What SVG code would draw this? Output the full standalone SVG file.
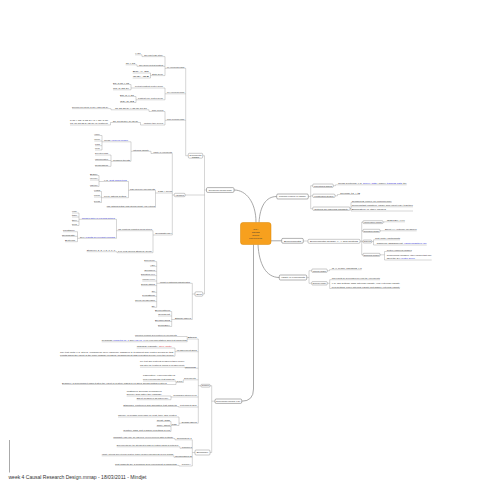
<svg xmlns="http://www.w3.org/2000/svg" width="495" height="495" viewBox="0 0 495 495">
<style>
text{font-family:"Liberation Sans",Arial,sans-serif;fill:#333}
.l{font-size:2.2px}
.bx{fill:#fff;stroke:#666;stroke-width:0.35}
.b1{fill:#fff;stroke:#555;stroke-width:0.45}
.bt{font-size:2.3px;text-anchor:middle}
.u{stroke:#777;stroke-width:0.3}
.c{fill:none;stroke:#888;stroke-width:0.35}
.m{fill:none;stroke:#8c8c8c;stroke-width:0.75}
.k{fill:#2b2bd6}
.r{fill:#d02020}
</style>
<rect width="495" height="495" fill="#fff"/>
<g id="frame"><line x1="9.5" y1="440" x2="9.5" y2="472.5" stroke="#555" stroke-width="0.5"/>
<text x="8.5" y="479" font-size="5.2" textLength="138" lengthAdjust="spacingAndGlyphs" fill="#444">week 4 Causal Research Design.mmap - 18/03/2011 - Mindjet</text></g>
<g id="connectors">
<path class="m" d="M256 222.5 C256 202 246 190 234 190 M259 222.5 C260 206 266 196.5 276.7 196.5 M271 240.8 H281.7 M258 244.5 C259 264 266 277.5 279.3 277.5 M253.5 244.5 V389 Q253.5 401.2 241.7 401.2"/>
<path class="c" d="M206.5 190 H204.5 M204.5 155.7 V294 M204.5 155.7 H202.7 M204.5 195 H185.1 M204.5 294 H202.8
M188.3 155.7 H185.7 M185.7 68.3 V155.7 M185.7 68.3 H184.3 M185.7 93.8 H184.3 M185.7 120.3 H184.3
M167 68.3 H165 M165 56.6 V75.6 M165 56.6 H163 M165 66.3 H163 M165 75.6 H163
M144 56.6 H142 V54.8 H140.5 M139 66.3 H137 V64.8 H135 M152 75.6 H150.5 M150.5 73 V78 M150.5 73 H149 M150.5 78 H149
M167 93.8 H165 M165 88 V99.8 M165 88 H163 M165 99.8 H163
M135 88 H131 M131 84.5 V89.8 M131 84.5 H129 M131 89.8 H129 M138 99.8 H136 M136 96.5 V102.5 M136 96.5 H134 M136 102.5 H134
M167 120.3 H165 M165 111.5 V125 M165 111.5 H163.3 M165 125 H163
M151.7 111.5 H149 V109.8 H146.7 M115 109.8 H111 V108.6 H108 M144 125 H140.5 V122.5 H138 M113 122.5 H110.5 V125 H108
M174.3 195 H172.3 M172.3 153.5 V235 M172.3 153.5 H172 M172.3 193 H172 M172.3 235 H172
M153 153.5 H151 V151.3 H149 M133 151.3 H131 M131 141.8 V161.3 M131 141.8 H128 M131 161.3 H130
M104 141.8 H102 M102 135.5 V150 M102 135.5 H100 M102 141 H100 M102 145.7 H100 M102 150 H100
M113 161.3 H111 M111 155 V166.3 M111 155 H108 M111 160.5 H108 M111 166.3 H108
M158 193 H155.5 M155.5 190.3 V207.3 M155.5 190.3 H155 M155.5 207.3 H155
M130 190.3 H128.5 M128.5 181.5 V197.7 M128.5 181.5 H126.7 M128.5 197.7 H126
M104 181.5 H99 M99 175.5 V186.5 M99 175.5 H97.7 M99 180 H97.7 M99 186.5 H97.7
M104 197.7 H101.5 M101.5 191.5 V202.5 M101.5 191.5 H100 M101.5 197 H100 M101.5 202.5 H100
M155 235 H153 M153 230.7 V252.7 M153 230.7 H152 M153 252.7 H152
M118 230.7 H116.5 M116.5 219.3 V238.3 M116.5 219.3 H115 M116.5 238.3 H115
M81.7 219.3 H79 M79 213 V225.5 M79 213 H77 M79 217 H77 M79 221.3 H77 M79 225.5 H77
M80 238.3 H77.5 M77.5 231.7 V241.7 M77.5 231.7 H75 M77.5 236.3 H75 M77.5 241.7 H75
M118 252.7 H117 V251.7 H115
M195 294 H192.3 M192.3 283.3 V319.5 M192.3 283.3 H190 M192.3 319.5 H191
M160 283.3 H156.7 M156.7 261.6 V307.3 M156.7 261.6 H155 M156.7 266.3 H155 M156.7 271.3 H155 M156.7 275.6 H155 M156.7 281 H155 M156.7 285.6 H155 M156.7 292.3 H155 M156.7 296.3 H155 M156.7 301.6 H155 M156.7 307.3 H155
M175 319.5 H171.7 M171.7 311.5 V326.5 M171.7 311.5 H170 M171.7 316 H170 M171.7 321.5 H170 M171.7 326.5 H170
M308.3 196.5 H310.7 M310.7 185.7 V208.7 M310.7 185.7 H312.7 M310.7 195.8 H312.7 M310.7 208.7 H312.7
M333.3 185.7 H335.5 V184.8 H338 M335 195.8 H337.5 V194.5 H340
M350 208.7 H351 M351 202.5 V211 M351 202.5 H351.7 M351 206.8 H351.7 M351 211 H351.7
M303.3 241 H308 M360 241.3 H361.7 M361.7 222.1 V254.8 M361.7 222.1 H363 M361.7 230.8 H363 M361.7 241.5 H363 M361.7 254.8 H363
M383 222.1 H384.5 V221.8 H386.7 M380 230.8 H385
M371.7 241.5 H373.5 M373.5 239.8 V245 M373.5 239.8 H375 M373.5 245 H376.7
M380 254.8 H384.5 M384.5 251.5 V260 M384.5 251.5 H386.7 M384.5 260 H386.7
M306.7 277.5 H309 M309 270.7 V283.3 M309 270.7 H311.7 M309 283.3 H311.7
M327.3 270.7 H329.5 V269.7 H331.7 M327.3 283.3 H329.7 M329.7 279.7 V288.5 M329.7 279.7 H331.7 M329.7 288.5 H331.7
M215 401.2 H211.7 M211.7 385.7 V452.5 M211.7 385.7 H210 M211.7 452.5 H210
M201 385.7 H198.3 M198.3 339 V423.2 M198.3 339 H196.7 M198.3 351.7 H196.7 M198.3 368.2 H196.7 M198.3 379.8 H196.7 M198.3 397 H196.7 M198.3 407 H196.7 M198.3 423.2 H196.7
M187.7 339 H187.2 M187.2 336.5 V341.8 M187.2 336.5 H176.7 M187.2 341.8 H186.7
M176.7 351.7 H175 M175 348 V356.2 M175 348 H171.7 M175 356.2 H173.3
M185 368.2 V367.2 H184.5
M184.3 379.8 H183.3 V382.5 H182.3 M176.7 382.5 H176 M176 381 V384.5 M176 381 H175 M176 384.5 H166.7
M173.3 397 H171 M171 396 V399.7 M171 396 H161.7 M171 399.7 H168.3
M180 407 H178.5 V406.5 H176.7
M181.7 423.2 H179 M179 417 V425.5 M179 417 H176.7 M179 425.5 H176.7
M171.7 425.5 H171 M171 421.5 V431.5 M171 421.5 H170 M171 426.5 H170 M171 431.5 H170
M195 452.5 H192.3 M192.3 439.8 V466 M192.3 439.8 H191.7 M192.3 448.3 H191.7 M192.3 457.3 H191.7 M192.3 466 H190.7
M176.7 439.8 H175 V438.5 H173.3 M181.7 448.3 H180 V446.8 H178.3 M175 457.3 H174 V455.8 H173.3 M181.7 466 H179 V465.3 H176.7"/>
</g>
<g id="central"><rect x="240.5" y="222.5" width="30.5" height="22" rx="2.5" fill="#F7A01E" stroke="#D88400" stroke-width="0.5"/>
<text x="255.7" y="229.8" font-size="2.4" text-anchor="middle" textLength="5" lengthAdjust="spacingAndGlyphs">Week 4</text>
<text x="255.7" y="232.8" font-size="2.4" text-anchor="middle" textLength="8" lengthAdjust="spacingAndGlyphs">Causal</text>
<text x="255.7" y="235.8" font-size="2.4" text-anchor="middle" textLength="7" lengthAdjust="spacingAndGlyphs">Research</text>
<text x="255.7" y="238.8" font-size="2.4" text-anchor="middle" textLength="13" lengthAdjust="spacingAndGlyphs">Design (Experiments)</text></g>
<g id="m1"><rect class="b1" x="206.5" y="187.6" width="27.5" height="4.8" rx="1.2"/><text class="bt" x="220.2" y="190.8" textLength="23" lengthAdjust="spacingAndGlyphs">Experimental research design</text></g>
<g id="nA"><rect class="bx" x="188.3" y="153.3" width="14.4" height="4.8" rx="1"/><text class="bt" x="195.5" y="155.5" font-size="1.9" textLength="12" lengthAdjust="spacingAndGlyphs">Experimental</text><text class="bt" x="195.5" y="157.6" font-size="1.9" textLength="7" lengthAdjust="spacingAndGlyphs">designs</text></g>
<g id="nB"><rect class="bx" x="174.3" y="193.3" width="10.8" height="3.4" rx="1"/><text class="bt" x="179.7" y="195.8" textLength="8.5" lengthAdjust="spacingAndGlyphs">Variables</text></g>
<g id="nC"><rect class="bx" x="195" y="291.8" width="7.8" height="4.4" rx="1"/><text class="bt" x="198.9" y="294.8" textLength="5.5" lengthAdjust="spacingAndGlyphs">Issues</text></g>
<g id="leaves-left" class="l">
<g id="a1"><text x="167" y="67.6" textLength="17.3" lengthAdjust="spacingAndGlyphs">Pre-experimental designs</text><line class="u" x1="167" y1="68.3" x2="184.3" y2="68.3"/></g>
<g id="a2"><text x="167" y="93.1" textLength="17.3" lengthAdjust="spacingAndGlyphs">True experimental designs</text><line class="u" x1="167" y1="93.8" x2="184.3" y2="93.8"/></g>
<g id="a3"><text x="167" y="119.6" textLength="17.3" lengthAdjust="spacingAndGlyphs">Quasi-experimental designs</text><line class="u" x1="167" y1="120.3" x2="184.3" y2="120.3"/></g>
<g id="a1a"><text x="144" y="55.9" textLength="19" lengthAdjust="spacingAndGlyphs">One-shot case study</text><line class="u" x1="144" y1="56.6" x2="163" y2="56.6"/></g>
<g id="a1a1"><text x="135" y="54.1" textLength="5.5" lengthAdjust="spacingAndGlyphs">X O1</text><line class="u" x1="135" y1="54.8" x2="140.5" y2="54.8"/></g>
<g id="a1b"><text x="139" y="65.6" textLength="24" lengthAdjust="spacingAndGlyphs">One-group pretest-posttest</text><line class="u" x1="139" y1="66.3" x2="163" y2="66.3"/></g>
<g id="a1b1"><text x="125.7" y="64.1" textLength="9.3" lengthAdjust="spacingAndGlyphs">O1 X O2</text><line class="u" x1="125.7" y1="64.8" x2="135" y2="64.8"/></g>
<g id="a1c"><text x="152" y="74.9" textLength="11" lengthAdjust="spacingAndGlyphs">Static group</text><line class="u" x1="152" y1="75.6" x2="163" y2="75.6"/></g>
<g id="a1c1"><text x="132.7" y="72.3" textLength="16.3" lengthAdjust="spacingAndGlyphs">EG: X O1</text><line class="u" x1="132.7" y1="73" x2="149" y2="73"/></g>
<g id="a1c2"><text x="132.7" y="77.3" textLength="16.3" lengthAdjust="spacingAndGlyphs">CG: O2</text><line class="u" x1="132.7" y1="78" x2="149" y2="78"/></g>
<g id="a2a"><text x="135" y="87.3" textLength="28" lengthAdjust="spacingAndGlyphs">Pretest-posttest control group</text><line class="u" x1="135" y1="88" x2="163" y2="88"/></g>
<g id="a2a1"><text x="113" y="83.8" textLength="16" lengthAdjust="spacingAndGlyphs">EG: R O1 X O2</text><line class="u" x1="113" y1="84.5" x2="129" y2="84.5"/></g>
<g id="a2a2"><text x="113" y="89.1" textLength="16" lengthAdjust="spacingAndGlyphs">CG: R O3 O4</text><line class="u" x1="113" y1="89.8" x2="129" y2="89.8"/></g>
<g id="a2b"><text x="138" y="99.1" textLength="25" lengthAdjust="spacingAndGlyphs">Posttest-only control group</text><line class="u" x1="138" y1="99.8" x2="163" y2="99.8"/></g>
<g id="a2b1"><text x="120" y="95.8" textLength="14" lengthAdjust="spacingAndGlyphs">EG: R X O1</text><line class="u" x1="120" y1="96.5" x2="134" y2="96.5"/></g>
<g id="a2b2"><text x="120" y="101.8" textLength="14" lengthAdjust="spacingAndGlyphs">CG: R O2</text><line class="u" x1="120" y1="102.5" x2="134" y2="102.5"/></g>
<g id="a3a"><text x="151.7" y="110.8" textLength="11.6" lengthAdjust="spacingAndGlyphs">Time series</text><line class="u" x1="151.7" y1="111.5" x2="163.3" y2="111.5"/></g>
<g id="a3a1"><text x="115" y="109.1" textLength="31.7" lengthAdjust="spacingAndGlyphs">O1 O2 O3 O4 X O5 O6 O7 O8</text><line class="u" x1="115" y1="109.8" x2="146.7" y2="109.8"/></g>
<g id="a3a2"><text x="72" y="107.9" textLength="36" lengthAdjust="spacingAndGlyphs">Solomon four-group: R O1 X O2 R O3 O4</text><line class="u" x1="72" y1="108.6" x2="108" y2="108.6"/></g>
<g id="a3b"><text x="144" y="124.3" textLength="19" lengthAdjust="spacingAndGlyphs">Multiple time series</text><line class="u" x1="144" y1="125" x2="163" y2="125"/></g>
<g id="a3b1"><text x="113" y="121.8" textLength="25" lengthAdjust="spacingAndGlyphs">EG: O1 O2 O3 X O4 O5 O6</text><line class="u" x1="113" y1="122.5" x2="138" y2="122.5"/></g>
<g id="a3b2"><text x="70" y="121" textLength="38" lengthAdjust="spacingAndGlyphs">R O1 X O2 / R O3 O4 / R X O5 / R O6</text><text x="70" y="124.2" textLength="38" lengthAdjust="spacingAndGlyphs">CG: O1 O2 O3 O4 O5 O6 (no treatment)</text><line class="u" x1="70" y1="125" x2="108" y2="125"/></g>
<g id="b1"><text x="153" y="152.8" textLength="19" lengthAdjust="spacingAndGlyphs">Validity of experiments</text><line class="u" x1="153" y1="153.5" x2="172" y2="153.5"/></g>
<g id="b1a"><text x="133" y="150.6" textLength="16" lengthAdjust="spacingAndGlyphs">Internal validity</text><line class="u" x1="133" y1="151.3" x2="149" y2="151.3"/></g>
<g id="b1a1"><text x="104" y="141.1" textLength="24" lengthAdjust="spacingAndGlyphs">Threats: <tspan class="k">extraneous variables</tspan></text><line class="u" x1="104" y1="141.8" x2="128" y2="141.8"/></g>
<g id="b1a1a"><text x="94.3" y="134.8" textLength="5.7" lengthAdjust="spacingAndGlyphs">History</text><line class="u" x1="94.3" y1="135.5" x2="100" y2="135.5"/></g>
<g id="b1a1b"><text x="94.3" y="140.3" textLength="5.7" lengthAdjust="spacingAndGlyphs">Maturation</text><line class="u" x1="94.3" y1="141" x2="100" y2="141"/></g>
<g id="b1a1c"><text x="95" y="145" textLength="5" lengthAdjust="spacingAndGlyphs">Testing</text><line class="u" x1="95" y1="145.7" x2="100" y2="145.7"/></g>
<g id="b1a1d"><text x="95" y="149.3" textLength="5" lengthAdjust="spacingAndGlyphs">Mortality</text><line class="u" x1="95" y1="150" x2="100" y2="150"/></g>
<g id="b1a2"><text x="113" y="160.6" textLength="17" lengthAdjust="spacingAndGlyphs">Common threats</text><line class="u" x1="113" y1="161.3" x2="130" y2="161.3"/></g>
<g id="b1a2a"><text x="95" y="154.3" textLength="13" lengthAdjust="spacingAndGlyphs">Selection bias</text><line class="u" x1="95" y1="155" x2="108" y2="155"/></g>
<g id="b1a2b"><text x="95" y="159.8" textLength="13" lengthAdjust="spacingAndGlyphs">Instrumentation</text><line class="u" x1="95" y1="160.5" x2="108" y2="160.5"/></g>
<g id="b1a2c"><text x="95" y="165.6" textLength="13" lengthAdjust="spacingAndGlyphs">Regression</text><line class="u" x1="95" y1="166.3" x2="108" y2="166.3"/></g>
<g id="b2"><text x="158" y="192.3" textLength="14" lengthAdjust="spacingAndGlyphs">Lab / field</text><line class="u" x1="158" y1="193" x2="172" y2="193"/></g>
<g id="b2a"><text x="130" y="189.6" textLength="25" lengthAdjust="spacingAndGlyphs">Lab vs field experiments</text><line class="u" x1="130" y1="190.3" x2="155" y2="190.3"/></g>
<g id="b2a1"><text x="104" y="180.8" textLength="22.7" lengthAdjust="spacingAndGlyphs">e.g. <tspan class="k">Test marketing</tspan></text><line class="u" x1="104" y1="181.5" x2="126.7" y2="181.5"/></g>
<g id="b2a1a"><text x="90" y="174.8" textLength="7.7" lengthAdjust="spacingAndGlyphs">Daily</text><line class="u" x1="90" y1="175.5" x2="97.7" y2="175.5"/></g>
<g id="b2a1b"><text x="90" y="179.3" textLength="7.7" lengthAdjust="spacingAndGlyphs">Weekly</text><line class="u" x1="90" y1="180" x2="97.7" y2="180"/></g>
<g id="b2a1c"><text x="90" y="185.8" textLength="7.7" lengthAdjust="spacingAndGlyphs">Last time</text><line class="u" x1="90" y1="186.5" x2="97.7" y2="186.5"/></g>
<g id="b2a2"><text x="104" y="197" textLength="22" lengthAdjust="spacingAndGlyphs">Field: natural setting</text><line class="u" x1="104" y1="197.7" x2="126" y2="197.7"/></g>
<g id="b2a2a"><text x="94" y="190.8" textLength="6" lengthAdjust="spacingAndGlyphs">High</text><line class="u" x1="94" y1="191.5" x2="100" y2="191.5"/></g>
<g id="b2a2b"><text x="94" y="196.3" textLength="6" lengthAdjust="spacingAndGlyphs">Medium</text><line class="u" x1="94" y1="197" x2="100" y2="197"/></g>
<g id="b2a2c"><text x="94" y="201.8" textLength="6" lengthAdjust="spacingAndGlyphs">Low</text><line class="u" x1="94" y1="202.5" x2="100" y2="202.5"/></g>
<g id="b2b"><text x="106.7" y="206.6" textLength="48.3" lengthAdjust="spacingAndGlyphs">Lab: artificial setting, high internal validity, low external</text><line class="u" x1="106.7" y1="207.3" x2="155" y2="207.3"/></g>
<g id="b3"><text x="155" y="234.3" textLength="17" lengthAdjust="spacingAndGlyphs">Consistency</text><line class="u" x1="155" y1="235" x2="172" y2="235"/></g>
<g id="b3a"><text x="118" y="230" textLength="34" lengthAdjust="spacingAndGlyphs">Lab conditions consistent across studies</text><line class="u" x1="118" y1="230.7" x2="152" y2="230.7"/></g>
<g id="b3a1"><text x="81.7" y="218.6" textLength="33.3" lengthAdjust="spacingAndGlyphs" class="k">Impact Factor of research articles</text><line class="u" x1="81.7" y1="219.3" x2="115" y2="219.3"/></g>
<g id="b3a1a"><text x="72" y="212.3" textLength="5" lengthAdjust="spacingAndGlyphs">one</text><line class="u" x1="72" y1="213" x2="77" y2="213"/></g>
<g id="b3a1b"><text x="72" y="216.3" textLength="5" lengthAdjust="spacingAndGlyphs">two</text><line class="u" x1="72" y1="217" x2="77" y2="217"/></g>
<g id="b3a1c"><text x="72" y="220.6" textLength="5" lengthAdjust="spacingAndGlyphs">three</text><line class="u" x1="72" y1="221.3" x2="77" y2="221.3"/></g>
<g id="b3a1d"><text x="72" y="224.8" textLength="5" lengthAdjust="spacingAndGlyphs">four</text><line class="u" x1="72" y1="225.5" x2="77" y2="225.5"/></g>
<g id="b3a2"><text x="80" y="237.6" textLength="35" lengthAdjust="spacingAndGlyphs">see: <tspan class="k">results in relevant journals</tspan></text><line class="u" x1="80" y1="238.3" x2="115" y2="238.3"/></g>
<g id="b3a2a"><text x="63" y="231" textLength="12" lengthAdjust="spacingAndGlyphs">Multiple</text><line class="u" x1="63" y1="231.7" x2="75" y2="231.7"/></g>
<g id="b3a2b"><text x="62" y="235.6" textLength="13" lengthAdjust="spacingAndGlyphs">Replicate</text><line class="u" x1="62" y1="236.3" x2="75" y2="236.3"/></g>
<g id="b3a2c"><text x="65" y="241" textLength="10" lengthAdjust="spacingAndGlyphs">Extend</text><line class="u" x1="65" y1="241.7" x2="75" y2="241.7"/></g>
<g id="b3b"><text x="118" y="252" textLength="34" lengthAdjust="spacingAndGlyphs">For real-world studies (field)</text><line class="u" x1="118" y1="252.7" x2="152" y2="252.7"/></g>
<g id="b3b1"><text x="86.7" y="251" textLength="28.3" lengthAdjust="spacingAndGlyphs">Studies 1, 2, 3, 4, 5, 6, 7, 8</text><line class="u" x1="86.7" y1="251.7" x2="115" y2="251.7"/></g>
<g id="c1"><text x="160" y="282.6" textLength="30" lengthAdjust="spacingAndGlyphs">Impact of participant characteristics</text><line class="u" x1="160" y1="283.3" x2="190" y2="283.3"/></g>
<g id="c1a"><text x="144.3" y="260.9" textLength="10.7" lengthAdjust="spacingAndGlyphs">Experience</text><line class="u" x1="144.3" y1="261.6" x2="155" y2="261.6"/></g>
<g id="c1b"><text x="150" y="265.6" textLength="5" lengthAdjust="spacingAndGlyphs">Age</text><line class="u" x1="150" y1="266.3" x2="155" y2="266.3"/></g>
<g id="c1c"><text x="144.3" y="270.6" textLength="10.7" lengthAdjust="spacingAndGlyphs">Gender</text><line class="u" x1="144.3" y1="271.3" x2="155" y2="271.3"/></g>
<g id="c1d"><text x="141" y="274.9" textLength="14" lengthAdjust="spacingAndGlyphs">Education level</text><line class="u" x1="141" y1="275.6" x2="155" y2="275.6"/></g>
<g id="c1e"><text x="142.3" y="280.3" textLength="12.7" lengthAdjust="spacingAndGlyphs">Income level</text><line class="u" x1="142.3" y1="281" x2="155" y2="281"/></g>
<g id="c1f"><text x="141" y="284.9" textLength="14" lengthAdjust="spacingAndGlyphs">Social status</text><line class="u" x1="141" y1="285.6" x2="155" y2="285.6"/></g>
<g id="c1g"><text x="151.7" y="291.6" textLength="3.3" lengthAdjust="spacingAndGlyphs">Size</text><line class="u" x1="151.7" y1="292.3" x2="155" y2="292.3"/></g>
<g id="c1h"><text x="142.3" y="295.6" textLength="12.7" lengthAdjust="spacingAndGlyphs">Location</text><line class="u" x1="142.3" y1="296.3" x2="155" y2="296.3"/></g>
<g id="c1i"><text x="135" y="300.9" textLength="20" lengthAdjust="spacingAndGlyphs">Group membership</text><line class="u" x1="135" y1="301.6" x2="155" y2="301.6"/></g>
<g id="c1j"><text x="151.7" y="306.6" textLength="3.3" lengthAdjust="spacingAndGlyphs">Etc.</text><line class="u" x1="151.7" y1="307.3" x2="155" y2="307.3"/></g>
<g id="c2"><text x="175" y="318.8" textLength="16" lengthAdjust="spacingAndGlyphs">Ethical issues</text><line class="u" x1="175" y1="319.5" x2="191" y2="319.5"/></g>
<g id="c2a"><text x="155" y="310.8" textLength="15" lengthAdjust="spacingAndGlyphs">Deception</text><line class="u" x1="155" y1="311.5" x2="170" y2="311.5"/></g>
<g id="c2b"><text x="158" y="315.3" textLength="12" lengthAdjust="spacingAndGlyphs">Consent</text><line class="u" x1="158" y1="316" x2="170" y2="316"/></g>
<g id="c2c"><text x="155" y="320.8" textLength="15" lengthAdjust="spacingAndGlyphs">Debriefing</text><line class="u" x1="155" y1="321.5" x2="170" y2="321.5"/></g>
<g id="c2d"><text x="158" y="325.8" textLength="12" lengthAdjust="spacingAndGlyphs">Privacy</text><line class="u" x1="158" y1="326.5" x2="170" y2="326.5"/></g>
</g>
<g id="r1"><rect class="b1" x="276.7" y="194" width="31.6" height="5" rx="1.2"/><text class="bt" x="292.5" y="197.3" textLength="27" lengthAdjust="spacingAndGlyphs">Research evidence of causality</text></g>
<g id="r1a"><rect class="bx" x="312.7" y="184" width="20.6" height="3.4" rx="1"/><text class="bt" x="323" y="186.5" textLength="18" lengthAdjust="spacingAndGlyphs">Correlational studies</text></g>
<g id="r1b"><rect class="bx" x="312.7" y="194.1" width="22.3" height="3.4" rx="1"/><text class="bt" x="323.85" y="196.6" textLength="19" lengthAdjust="spacingAndGlyphs">Longitudinal studies</text></g>
<g id="r1c"><rect class="bx" x="312.7" y="207" width="37.3" height="3.4" rx="1"/><text class="bt" x="331.35" y="209.5" textLength="34" lengthAdjust="spacingAndGlyphs">Criteria for inferring causality</text></g>
<g id="r2"><rect class="b1" x="281.7" y="238.4" width="21.6" height="4.8" rx="1.2"/><text class="bt" x="292.5" y="241.6" textLength="17" lengthAdjust="spacingAndGlyphs">Experiments</text></g>
<g id="r2a"><rect class="bx" x="308" y="239.3" width="52" height="4" rx="1"/><text class="bt" x="334" y="242.1" textLength="48" lengthAdjust="spacingAndGlyphs">Experimental design: X, Y and controls</text></g>
<g id="r2a1"><rect class="bx" x="363" y="220.7" width="20" height="2.9" rx="0.8"/><text class="bt" x="373" y="222.9" font-size="2" textLength="18" lengthAdjust="spacingAndGlyphs">Independent variable</text></g>
<g id="r2a2"><rect class="bx" x="363" y="229.3" width="17" height="3" rx="0.8"/><text class="bt" x="371.5" y="231.6" font-size="2" textLength="15" lengthAdjust="spacingAndGlyphs">Dependent variable</text></g>
<g id="r2a3"><rect class="bx" x="363" y="240" width="8.7" height="3" rx="0.8"/><text class="bt" x="367.35" y="242.3" font-size="2" textLength="7" lengthAdjust="spacingAndGlyphs">Subjects</text></g>
<g id="r2a4"><rect class="bx" x="363" y="253.3" width="17" height="3" rx="0.8"/><text class="bt" x="371.5" y="255.6" font-size="2" textLength="15" lengthAdjust="spacingAndGlyphs">Extraneous variables</text></g>
<g id="r3"><rect class="b1" x="279.3" y="275" width="27.4" height="5" rx="1.2"/><text class="bt" x="293" y="278.3" textLength="24" lengthAdjust="spacingAndGlyphs">Validity in experiments</text></g>
<g id="r3a"><rect class="bx" x="311.7" y="269" width="15.6" height="3.4" rx="1"/><text class="bt" x="319.5" y="271.5" textLength="13.5" lengthAdjust="spacingAndGlyphs">Internal validity</text></g>
<g id="r3b"><rect class="bx" x="311.7" y="281.6" width="15.6" height="3.4" rx="1"/><text class="bt" x="319.5" y="284.1" textLength="13.5" lengthAdjust="spacingAndGlyphs">External validity</text></g>
<g id="leaves-right" class="l">
<g id="r1a1"><text x="338" y="184.1" textLength="68.7" lengthAdjust="spacingAndGlyphs">Cross-sectional: e.g. <tspan class="k">survey data</tspan> / panel: <tspan class="k">tracking data</tspan> (t1)</text><line class="u" x1="338" y1="184.8" x2="406.7" y2="184.8"/></g>
<g id="r1b1"><text x="340" y="193.8" textLength="20" lengthAdjust="spacingAndGlyphs">Trends: t1 &gt; t2</text><line class="u" x1="340" y1="194.5" x2="360" y2="194.5"/></g>
<g id="r1c1"><text x="351.7" y="201.8" textLength="40" lengthAdjust="spacingAndGlyphs">Temporal order of occurrence</text><line class="u" x1="351.7" y1="202.5" x2="391.7" y2="202.5"/></g>
<g id="r1c2"><text x="351.7" y="206.1" textLength="61.3" lengthAdjust="spacingAndGlyphs">Concomitant variation: cause and effect vary together</text><line class="u" x1="351.7" y1="206.8" x2="413" y2="206.8"/></g>
<g id="r1c3"><text x="351.7" y="210.3" textLength="34.3" lengthAdjust="spacingAndGlyphs">Elimination of other causes</text><line class="u" x1="351.7" y1="211" x2="413" y2="211"/></g>
<g id="r2a1c"><text x="386.7" y="221.1" textLength="18.3" lengthAdjust="spacingAndGlyphs">Cause (X)</text><line class="u" x1="386.7" y1="221.8" x2="405" y2="221.8"/></g>
<g id="r2a2c"><text x="385" y="230.1" textLength="31.7" lengthAdjust="spacingAndGlyphs">Effect (Y): outcome measured</text><line class="u" x1="385" y1="230.8" x2="416.7" y2="230.8"/></g>
<g id="r2a3c1"><text x="375" y="239.1" textLength="25" lengthAdjust="spacingAndGlyphs">Test units / participants</text><line class="u" x1="375" y1="239.8" x2="400" y2="239.8"/></g>
<g id="r2a3c2"><text x="376.7" y="244.3" textLength="50" lengthAdjust="spacingAndGlyphs">Random assignment: <tspan class="k">randomisation (R)</tspan></text><line class="u" x1="376.7" y1="245" x2="426.7" y2="245"/></g>
<g id="r2a4c1"><text x="386.7" y="250.8" textLength="25" lengthAdjust="spacingAndGlyphs">Control extraneous variables</text><line class="u" x1="386.7" y1="251.5" x2="411.7" y2="251.5"/></g>
<g id="r2a4c2"><text x="386.7" y="255.8" textLength="45" lengthAdjust="spacingAndGlyphs">Confounding variables: other causes that may</text><text x="386.7" y="259.2" textLength="28" lengthAdjust="spacingAndGlyphs">affect the DV: <tspan class="k">control group</tspan></text><line class="u" x1="386.7" y1="260" x2="431.7" y2="260"/></g>
<g id="r3a1"><text x="331.7" y="269" textLength="30" lengthAdjust="spacingAndGlyphs">Is X really causing Y?</text><line class="u" x1="331.7" y1="269.7" x2="361.7" y2="269.7"/></g>
<g id="r3b1"><text x="331.7" y="279" textLength="48.3" lengthAdjust="spacingAndGlyphs">Can results be generalised beyond the experiment?</text><line class="u" x1="331.7" y1="279.7" x2="380" y2="279.7"/></g>
<g id="r3b2"><text x="331.7" y="284.2" textLength="68.3" lengthAdjust="spacingAndGlyphs">e.g. lab setting: high internal validity, low external validity</text><text x="331.7" y="287.7" textLength="68.3" lengthAdjust="spacingAndGlyphs">field setting: lower internal validity but higher external validity</text><line class="u" x1="331.7" y1="288.5" x2="400" y2="288.5"/></g>
</g>
<g id="nL"><rect class="b1" x="215" y="399" width="26.7" height="4.4" rx="1.2"/><text class="bt" x="228.35" y="402" textLength="24" lengthAdjust="spacingAndGlyphs">Experimental research (Hair)</text></g>
<g id="nL1"><rect class="bx" x="201" y="384.3" width="9" height="2.8" rx="0.8"/><text class="bt" x="205.5" y="386.4" font-size="2" textLength="7" lengthAdjust="spacingAndGlyphs">Examples</text></g>
<g id="nL2"><rect class="bx" x="195" y="450" width="15" height="5" rx="1"/><text class="bt" x="202.5" y="453.3" textLength="12" lengthAdjust="spacingAndGlyphs">Summary</text></g>
<g id="leaves-bottom" class="l">
<g id="l1a"><text x="187.7" y="338.3" textLength="9" lengthAdjust="spacingAndGlyphs">Ethics</text><line class="u" x1="187.7" y1="339" x2="196.7" y2="339"/></g>
<g id="l1a1"><text x="135" y="335.8" textLength="41.7" lengthAdjust="spacingAndGlyphs">Informed consent &amp; deception in experiments</text><line class="u" x1="135" y1="336.5" x2="176.7" y2="336.5"/></g>
<g id="l1a2"><text x="101.7" y="341.1" textLength="85" lengthAdjust="spacingAndGlyphs">Readings: <tspan class="k">Malhotra ch. 7</tspan> and <tspan class="k">Hair ch. 8</tspan> on experimentation and test marketing</text><line class="u" x1="101.7" y1="341.8" x2="186.7" y2="341.8"/></g>
<g id="l1b"><text x="176.7" y="351" textLength="20" lengthAdjust="spacingAndGlyphs">Measurement 2005</text><line class="u" x1="176.7" y1="351.7" x2="196.7" y2="351.7"/></g>
<g id="l1b1"><text x="136.7" y="347.3" textLength="35" lengthAdjust="spacingAndGlyphs">Causal validity: <tspan class="r">see note</tspan></text><line class="u" x1="136.7" y1="348" x2="171.7" y2="348"/></g>
<g id="l1b2"><text x="60" y="352.6" textLength="113.3" lengthAdjust="spacingAndGlyphs">The test units (e.g. stores, consumers) were randomly assigned to treatment and control groups so that</text><text x="60" y="355.5" textLength="113.3" lengthAdjust="spacingAndGlyphs">results show the effect of the price change on sales; measurement was repeated weekly over the period</text><line class="u" x1="60" y1="356.2" x2="173.3" y2="356.2"/></g>
<g id="l1c"><text x="185" y="367.5" textLength="10.7" lengthAdjust="spacingAndGlyphs">Timing</text><line class="u" x1="185" y1="368.2" x2="196.7" y2="368.2"/></g>
<g id="l1c1"><text x="140" y="362.3" textLength="44.5" lengthAdjust="spacingAndGlyphs">Pre-test and post-test measures taken before</text><text x="140" y="365.9" textLength="44.5" lengthAdjust="spacingAndGlyphs">and after the treatment (timing of measurement)</text><line class="u" x1="140" y1="367.2" x2="184.5" y2="367.2"/></g>
<g id="l1d"><text x="184.3" y="379.1" textLength="11.4" lengthAdjust="spacingAndGlyphs">Experiments</text><line class="u" x1="184.3" y1="379.8" x2="196.7" y2="379.8"/></g>
<g id="l1d0"><text x="176.7" y="381.8" textLength="5.6" lengthAdjust="spacingAndGlyphs">Types</text><line class="u" x1="176.7" y1="382.5" x2="182.3" y2="382.5"/></g>
<g id="l1d1"><text x="143" y="376.4" textLength="32" lengthAdjust="spacingAndGlyphs">Laboratory experiments vs</text><text x="143" y="380.1" textLength="32" lengthAdjust="spacingAndGlyphs">field experiments (test markets)</text><line class="u" x1="143" y1="381" x2="175" y2="381"/></g>
<g id="l1d2"><text x="62" y="383.8" textLength="104.7" lengthAdjust="spacingAndGlyphs">Example: a supermarket chain tested the effect of in-store displays on sales across matched stores</text><line class="u" x1="62" y1="384.5" x2="166.7" y2="384.5"/></g>
<g id="l1e"><text x="173.3" y="396.3" textLength="23.4" lengthAdjust="spacingAndGlyphs">Comparison studies 1998</text><line class="u" x1="173.3" y1="397" x2="196.7" y2="397"/></g>
<g id="l1e1"><text x="126.7" y="392.3" textLength="35" lengthAdjust="spacingAndGlyphs">Matched groups compared</text><text x="126.7" y="395.3" textLength="35" lengthAdjust="spacingAndGlyphs">before and after the change</text><line class="u" x1="126.7" y1="396" x2="161.7" y2="396"/></g>
<g id="l1e2"><text x="136.7" y="399" textLength="31.6" lengthAdjust="spacingAndGlyphs">Effect measured as difference</text><line class="u" x1="136.7" y1="399.7" x2="168.3" y2="399.7"/></g>
<g id="l1f"><text x="180" y="406.3" textLength="16.7" lengthAdjust="spacingAndGlyphs">Test markets 2001</text><line class="u" x1="180" y1="407" x2="196.7" y2="407"/></g>
<g id="l1f1"><text x="123.3" y="405.8" textLength="53.4" lengthAdjust="spacingAndGlyphs">Standard, controlled and simulated test markets</text><line class="u" x1="123.3" y1="406.5" x2="176.7" y2="406.5"/></g>
<g id="l1g"><text x="181.7" y="422.5" textLength="15" lengthAdjust="spacingAndGlyphs">Design issues</text><line class="u" x1="181.7" y1="423.2" x2="196.7" y2="423.2"/></g>
<g id="l1g1"><text x="118" y="416.3" textLength="58.7" lengthAdjust="spacingAndGlyphs">Choice of design depends on cost, time and control</text><line class="u" x1="118" y1="417" x2="176.7" y2="417"/></g>
<g id="l1g0"><text x="171.7" y="424.8" textLength="5" lengthAdjust="spacingAndGlyphs">Lab</text><line class="u" x1="171.7" y1="425.5" x2="176.7" y2="425.5"/></g>
<g id="l1g01"><text x="156.7" y="420.8" textLength="13.3" lengthAdjust="spacingAndGlyphs">Cost: high</text><line class="u" x1="156.7" y1="421.5" x2="170" y2="421.5"/></g>
<g id="l1g02"><text x="156.7" y="425.8" textLength="13.3" lengthAdjust="spacingAndGlyphs">Time: short</text><line class="u" x1="156.7" y1="426.5" x2="170" y2="426.5"/></g>
<g id="l1g03"><text x="123.3" y="430.8" textLength="46.7" lengthAdjust="spacingAndGlyphs">Control: high, but realism of setting is low</text><line class="u" x1="123.3" y1="431.5" x2="170" y2="431.5"/></g>
<g id="l2a"><text x="176.7" y="439.1" textLength="15" lengthAdjust="spacingAndGlyphs">Conclusion 1</text><line class="u" x1="176.7" y1="439.8" x2="191.7" y2="439.8"/></g>
<g id="l2a1"><text x="113.3" y="437.8" textLength="60" lengthAdjust="spacingAndGlyphs">Causality can only be inferred, never proven with certainty</text><line class="u" x1="113.3" y1="438.5" x2="173.3" y2="438.5"/></g>
<g id="l2b"><text x="181.7" y="447.6" textLength="10" lengthAdjust="spacingAndGlyphs">Conclusion 2</text><line class="u" x1="181.7" y1="448.3" x2="191.7" y2="448.3"/></g>
<g id="l2b1"><text x="116.7" y="446.1" textLength="61.6" lengthAdjust="spacingAndGlyphs">Experiments are the strongest design for testing causal hypotheses</text><line class="u" x1="116.7" y1="446.8" x2="178.3" y2="446.8"/></g>
<g id="l2c"><text x="175" y="456.6" textLength="16.7" lengthAdjust="spacingAndGlyphs">Conclusion 3</text><line class="u" x1="175" y1="457.3" x2="191.7" y2="457.3"/></g>
<g id="l2c1"><text x="101.7" y="455.1" textLength="71.6" lengthAdjust="spacingAndGlyphs">Validity (internal and external) must be traded off when choosing lab vs field designs</text><line class="u" x1="101.7" y1="455.8" x2="173.3" y2="455.8"/></g>
<g id="l2d"><text x="181.7" y="465.3" textLength="9" lengthAdjust="spacingAndGlyphs">Conclusion 4</text><line class="u" x1="181.7" y1="466" x2="190.7" y2="466"/></g>
<g id="l2d1"><text x="115" y="464.6" textLength="61.7" lengthAdjust="spacingAndGlyphs">Test markets are a common field experiment in marketing</text><line class="u" x1="115" y1="465.3" x2="176.7" y2="465.3"/></g>
</g>
</svg>
